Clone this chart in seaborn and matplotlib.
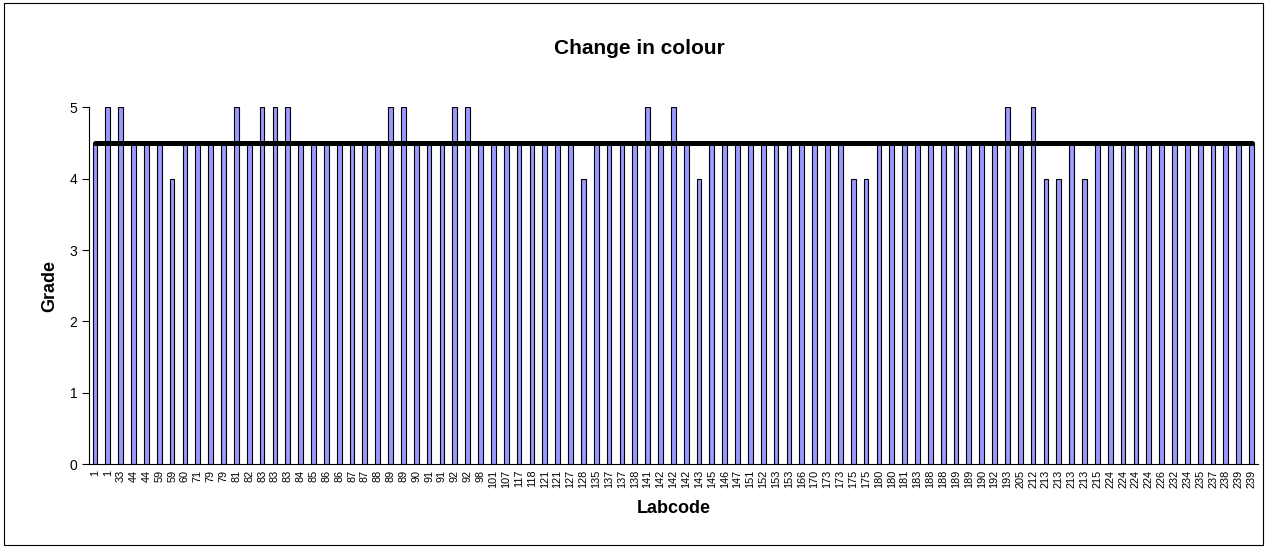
import matplotlib
matplotlib.use("Agg")
import pandas as pd
import matplotlib.pyplot as plt
import seaborn as sns
from matplotlib.patches import Rectangle

# Lab codes along the x axis (one per bar, repeats are real)
labcodes = [
    "1", "1", "33", "44", "44", "59", "59", "60", "71", "79", "79", "81", "82",
    "83", "83", "83", "84", "85", "86", "86", "87", "87", "88", "89", "89", "90",
    "91", "91", "92", "92", "98", "101", "107", "117", "118", "121", "121", "127",
    "128", "135", "137", "137", "138", "141", "142", "142", "142", "143", "145",
    "146", "147", "151", "152", "153", "153", "166", "170", "173", "173", "175",
    "175", "180", "180", "181", "183", "188", "188", "189", "189", "190", "192",
    "193", "205", "212", "213", "213", "213", "213", "215", "224", "224", "224",
    "224", "226", "232", "234", "235", "237", "238", "239", "239",
]

# Grade per lab
grades = [
    4.5, 5, 5, 4.5, 4.5, 4.5, 4, 4.5, 4.5, 4.5, 4.5, 5, 4.5,
    5, 5, 5, 4.5, 4.5, 4.5, 4.5, 4.5, 4.5, 4.5, 5, 5, 4.5,
    4.5, 4.5, 5, 5, 4.5, 4.5, 4.5, 4.5, 4.5, 4.5, 4.5, 4.5,
    4, 4.5, 4.5, 4.5, 4.5, 5, 4.5, 5, 4.5, 4, 4.5,
    4.5, 4.5, 4.5, 4.5, 4.5, 4.5, 4.5, 4.5, 4.5, 4.5, 4,
    4, 4.5, 4.5, 4.5, 4.5, 4.5, 4.5, 4.5, 4.5, 4.5, 4.5,
    5, 4.5, 5, 4, 4, 4.5, 4, 4.5, 4.5, 4.5, 4.5,
    4.5, 4.5, 4.5, 4.5, 4.5, 4.5, 4.5, 4.5, 4.5,
]

# reference grade drawn as the thick black line
target_grade = 4.5

sns.set_style("white")
plt.rcParams["font.family"] = ["Liberation Sans", "DejaVu Sans"]
plt.rcParams.update({"text.color": "black", "axes.labelcolor": "black",
                     "xtick.color": "black", "ytick.color": "black"})

df = pd.DataFrame({"pos": range(len(grades)), "grade": grades})
df["target"] = target_grade

fig = plt.figure(figsize=(12.67, 5.47), dpi=100)
ax = fig.add_axes([0.0699, 0.1517, 0.9230, 0.6521])

sns.barplot(data=df, x="pos", y="grade", color="#9999FF", saturation=1,
            width=0.37, edgecolor="black", linewidth=0.8, ax=ax, zorder=2)
ax.plot(df["pos"], df["target"], color="black", lw=3.6,
        solid_capstyle="round", zorder=3)

ax.set_xlim(-0.5, len(grades) - 0.5)
ax.set_ylim(0, 5)
ax.set_yticks(range(6))
ax.set_xticks(range(len(labcodes)))
ax.set_xticklabels(labcodes, rotation=90, fontsize=7.8)
ax.set_xticks([i - 0.5 for i in range(len(labcodes) + 1)], minor=True)
ax.tick_params(axis="x", which="major", length=0, pad=4)
ax.tick_params(axis="x", which="minor", length=6, direction="inout",
               width=0.8, color="black")
ax.tick_params(axis="y", length=5, width=0.8, direction="out",
               color="black", labelsize=10, pad=3)
ax.yaxis.set_ticks_position("left")

for s in ["top", "right"]:
    ax.spines[s].set_visible(False)
for s in ["left", "bottom"]:
    ax.spines[s].set_color("black")
    ax.spines[s].set_linewidth(0.8)

ax.set_xlabel("Labcode", fontsize=13, fontweight="bold", labelpad=9)
ax.set_ylabel("Grade", fontsize=13, fontweight="bold", labelpad=8)
fig.suptitle("Change in colour", fontsize=15, fontweight="bold",
             x=0.505, y=0.912, va="center")

fig.patches.append(Rectangle((0.003, 0.004), 0.994, 0.991, transform=fig.transFigure,
                             fill=False, edgecolor="black", linewidth=0.8))

fig.savefig("out.png", dpi=100)
